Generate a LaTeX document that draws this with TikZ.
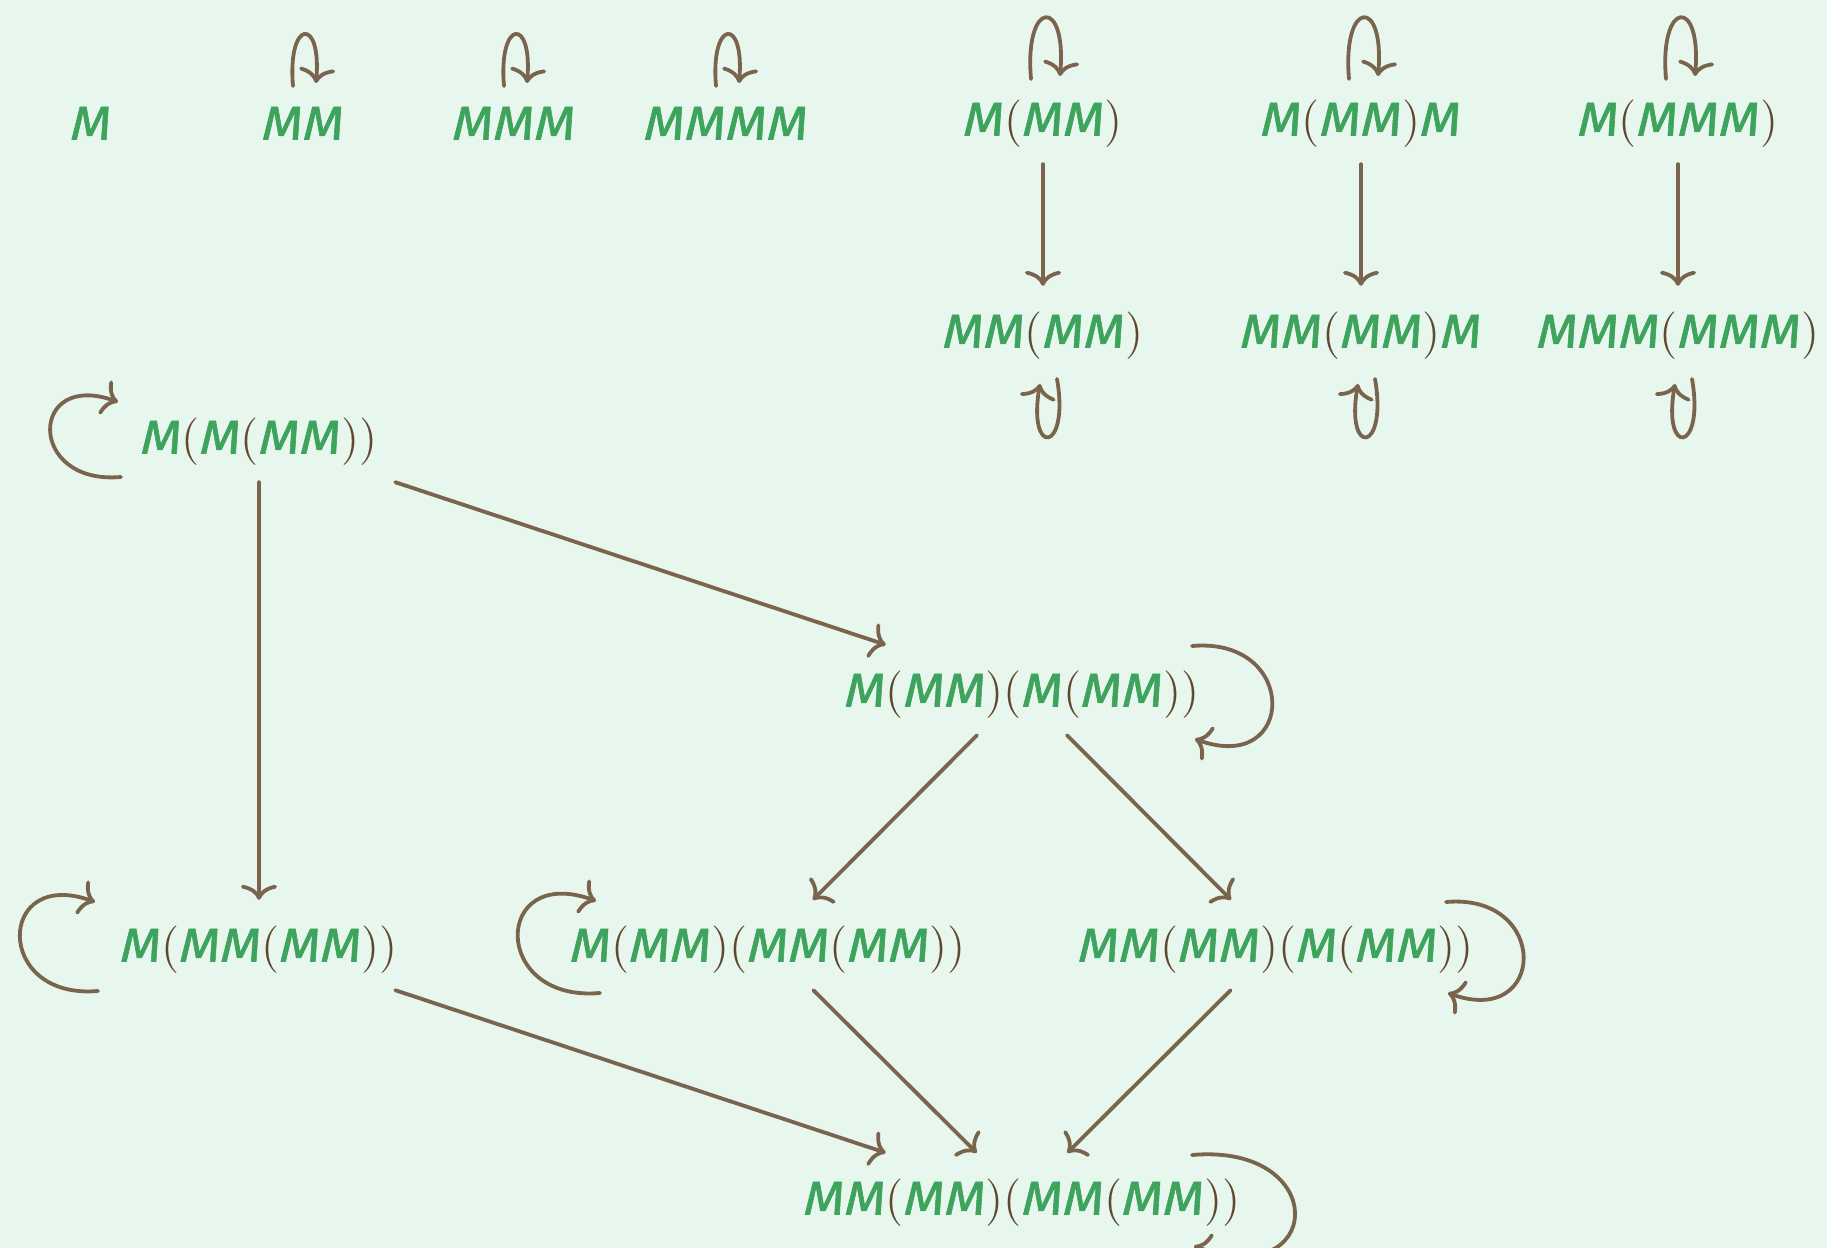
\documentclass[tikz,border=0pt]{standalone}
\usepackage{fontspec}
\usetikzlibrary{arrows.meta}
\newfontfamily\termfont{Fira Sans}[FakeStretch=1.12, FakeBold=1.2]
\definecolor{bgmint}{RGB}{232,247,238}
\definecolor{termgreen}{RGB}{61,163,93}
\definecolor{linkbrown}{RGB}{122,100,78}
\definecolor{parbrown}{RGB}{96,72,48}
\newcommand{\po}{{\color{parbrown}\rmfamily\upshape(}}
\newcommand{\pc}{{\color{parbrown}\rmfamily\upshape)}}
\begin{document}
\begin{tikzpicture}[
	term/.style={text=termgreen, font=\termfont\itshape\fontsize{13.5pt}{16pt}\selectfont, text height=3.9mm, text depth=0.6mm, inner xsep=2.2mm, inner ysep=2.2mm},
	arr/.style={draw=linkbrown, line width=0.38mm, line cap=round, -{To[length=1.5mm, width=3.6mm]}}]
	\useasboundingbox (0,0) rectangle (18.27,-12.48);
	\fill[bgmint] (0,0) rectangle (18.27,-12.48);
	\clip (0,0) rectangle (18.27,-12.48);
	%
	%terms top row
	\node[term] (m1) at (0.91,-1.23) {M};
	\node[term] (m2) at (3.03,-1.23) {MM};
	\node[term] (m3) at (5.14,-1.23) {MMM};
	\node[term] (m4) at (7.26,-1.23) {MMMM};
	\node[term] (a1) at (10.43,-1.19) {M\po MM\pc};
	\node[term] (b1) at (13.61,-1.19) {M\po MM\pc M};
	\node[term] (c1) at (16.78,-1.19) {M\po MMM\pc};
	\node[term] (a2) at (10.43,-3.31) {MM\po MM\pc};
	\node[term] (b2) at (13.61,-3.31) {MM\po MM\pc M};
	\node[term] (c2) at (16.78,-3.31) {MMM\po MMM\pc};
	%terms big square
	\node[term] (t0) at (2.59,-4.37) {M\po M\po MM\pc\pc};
	\node[term] (t1) at (10.22,-6.90) {M\po MM\pc\po M\po MM\pc\pc};
	\node[term] (t2) at (2.59,-9.45) {M\po MM\po MM\pc\pc};
	\node[term] (t3) at (7.68,-9.45) {M\po MM\pc\po MM\po MM\pc\pc};
	\node[term] (t4) at (12.76,-9.45) {MM\po MM\pc\po M\po MM\pc\pc};
	\node[term] (t5) at (10.22,-11.98) {MM\po MM\pc\po MM\po MM\pc\pc};
	%
	%arrows
	\draw[arr] (a1) -- (a2);
	\draw[arr] (b1) -- (b2);
	\draw[arr] (c1) -- (c2);
	\draw[arr] (t0) -- (t1);
	\draw[arr] (t0) -- (t2);
	\draw[arr] (t1) -- (t3);
	\draw[arr] (t1) -- (t4);
	\draw[arr] (t2) -- (t5);
	\draw[arr] (t3) -- (t5);
	\draw[arr] (t4) -- (t5);
	%
	%small loops
	\draw[arr] ([shift={(-0.10,0.37)}]m2.center) to[out=95, in=85, distance=6.7mm] ([shift={(0.13,0.40)}]m2.center);
	\draw[arr] ([shift={(-0.10,0.37)}]m3.center) to[out=95, in=85, distance=6.7mm] ([shift={(0.13,0.40)}]m3.center);
	\draw[arr] ([shift={(-0.10,0.37)}]m4.center) to[out=95, in=85, distance=6.7mm] ([shift={(0.13,0.40)}]m4.center);
	\draw[arr] ([shift={(-0.12,0.40)}]a1.center) to[out=95, in=85, distance=8mm] ([shift={(0.17,0.43)}]a1.center);
	\draw[arr] ([shift={(-0.12,0.40)}]b1.center) to[out=95, in=85, distance=8mm] ([shift={(0.17,0.43)}]b1.center);
	\draw[arr] ([shift={(-0.12,0.40)}]c1.center) to[out=95, in=85, distance=8mm] ([shift={(0.17,0.43)}]c1.center);
	\draw[arr] ([shift={(0.14,-0.48)}]a2.center) to[out=-80, in=-100, distance=7.5mm] ([shift={(-0.03,-0.53)}]a2.center);
	\draw[arr] ([shift={(0.14,-0.48)}]b2.center) to[out=-80, in=-100, distance=7.5mm] ([shift={(-0.03,-0.53)}]b2.center);
	\draw[arr] ([shift={(0.14,-0.48)}]c2.center) to[out=-80, in=-100, distance=7.5mm] ([shift={(-0.03,-0.53)}]c2.center);
	%big loops
	\draw[arr] ([shift={(-1.38,-0.40)}]t0.center) to[out=185, in=160, distance=9.5mm] ([shift={(-1.41,0.35)}]t0.center);
	\draw[arr] ([shift={(-1.61,-0.46)}]t2.center) to[out=185, in=160, distance=10.5mm] ([shift={(-1.64,0.43)}]t2.center);
	\draw[arr] ([shift={(-1.68,-0.48)}]t3.center) to[out=185, in=160, distance=11mm] ([shift={(-1.72,0.44)}]t3.center);
	\draw[arr] ([shift={(1.70,0.44)}]t1.center) to[out=5, in=-20, distance=10.8mm] ([shift={(1.73,-0.49)}]t1.center);
	\draw[arr] ([shift={(1.70,0.43)}]t4.center) to[out=5, in=-20, distance=10.5mm] ([shift={(1.72,-0.48)}]t4.center);
	\draw[arr] ([shift={(1.70,0.43)}]t5.center) to[out=5, in=-20, distance=14mm] ([shift={(1.72,-0.48)}]t5.center);
\end{tikzpicture}
\end{document}
